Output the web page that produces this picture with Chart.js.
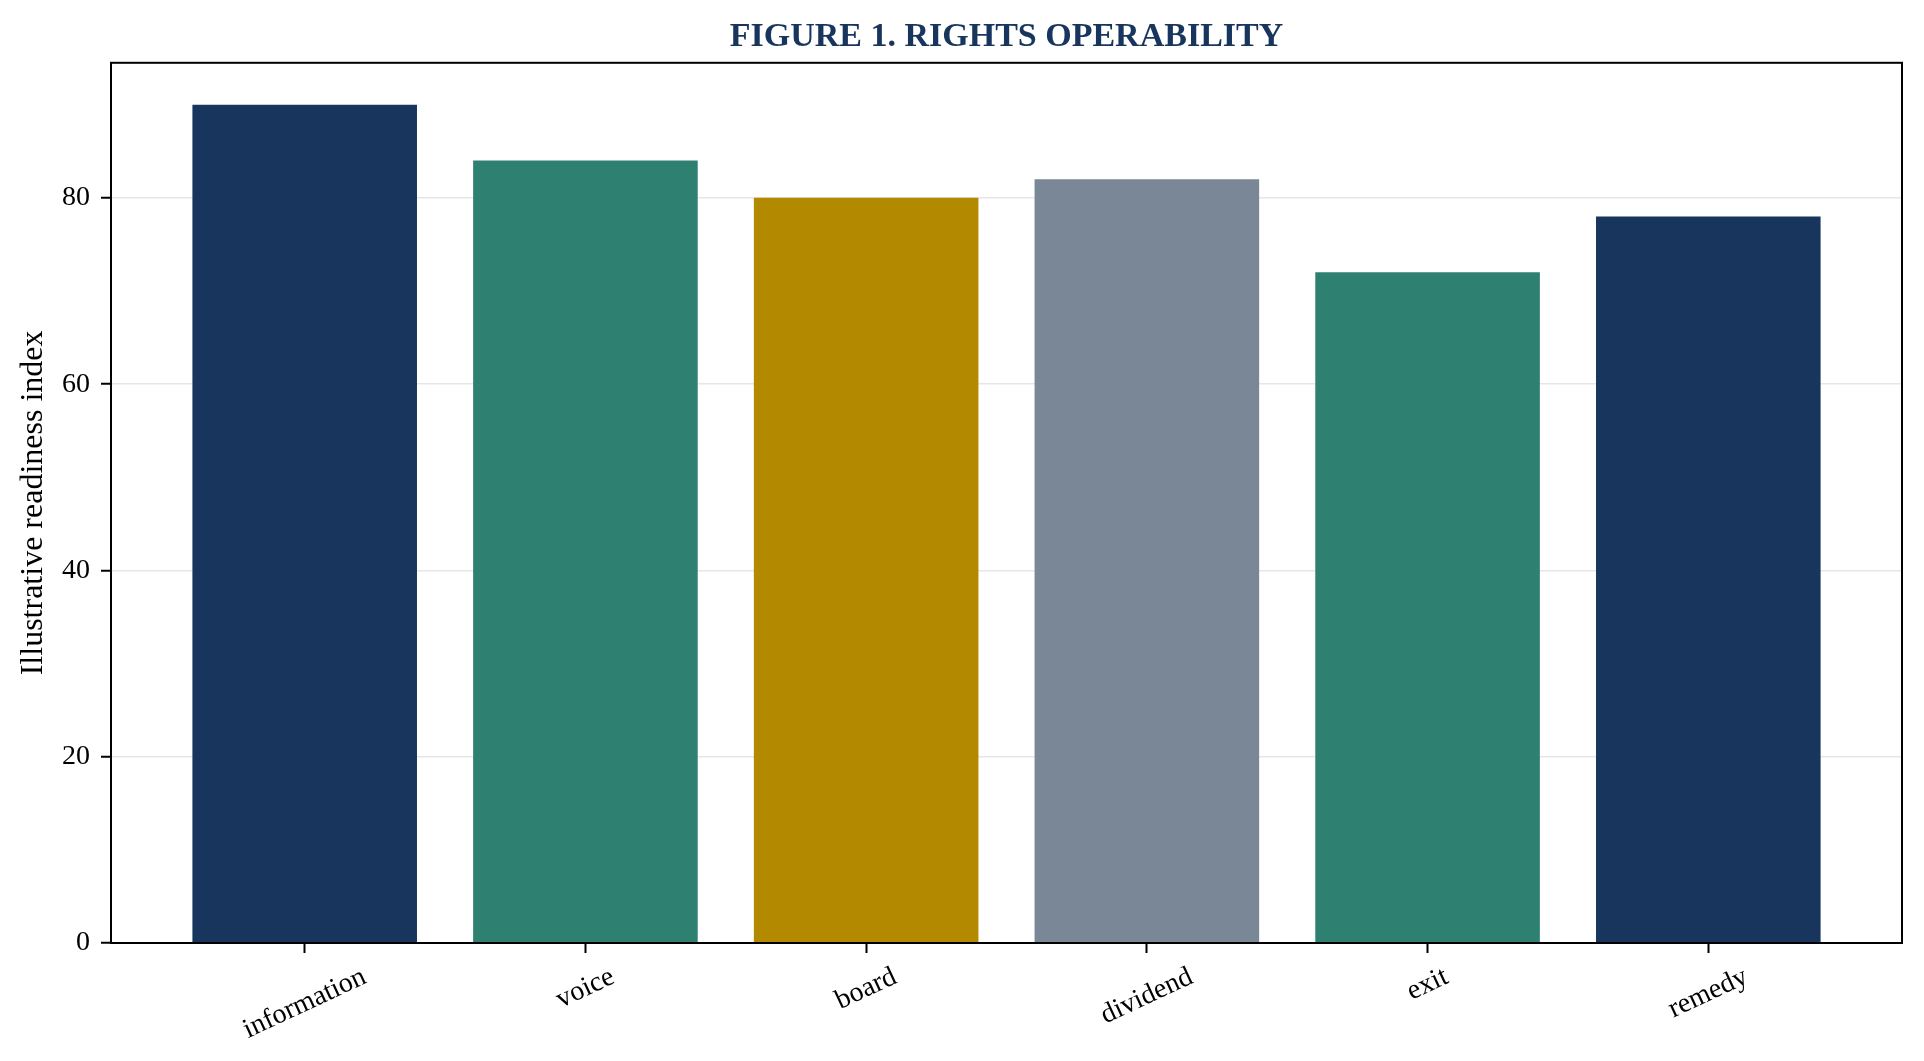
<!DOCTYPE html>
<html lang="en">
<head>
    <meta charset="UTF-8">
    <title>Figure 1. Rights operability</title>
    <style>
        body {
            margin: 0;
            background: #ffffff;
        }

        #chartContainer {
            width: 1924px;
            height: 1061px;
        }
    </style>
    <script src="https://cdn.jsdelivr.net/npm/chart.js"></script>
</head>
<body>
    <div id="chartContainer">
        <canvas id="chart1"></canvas>
    </div>
    <script>
        // Chart data
        const categories = ['information', 'voice', 'board', 'dividend', 'exit', 'remedy'];
        const readinessValues = [90, 84, 80, 82, 72, 78];
        const barColors = ['#18365d', '#2e8070', '#b38900', '#7a8796', '#2e8070', '#18365d'];
        const yTicks = [0, 20, 40, 60, 80];

        const FONT = "'Liberation Serif', 'Times New Roman', serif";

        // Box around the plot area
        const framePlugin = {
            id: 'frame',
            afterDraw(chart) {
                const a = chart.chartArea;
                const ctx = chart.ctx;
                ctx.save();
                ctx.strokeStyle = '#000000';
                ctx.lineWidth = 2;
                ctx.strokeRect(a.left, a.top, a.right - a.left, a.bottom - a.top);
                ctx.restore();
            }
        };

        // Rotated category labels, centred on their tick
        const xLabelPlugin = {
            id: 'xLabels',
            afterDraw(chart) {
                const ctx = chart.ctx;
                const xScale = chart.scales.x;
                const angle = 25 * Math.PI / 180;
                const fontSize = 28;
                ctx.save();
                ctx.font = fontSize + 'px ' + FONT;
                ctx.fillStyle = '#000000';
                ctx.textAlign = 'center';
                ctx.textBaseline = 'middle';
                categories.forEach((label, i) => {
                    const w = ctx.measureText(label).width;
                    const h = fontSize * 1.15;
                    const boxH = w * Math.sin(angle) + h * Math.cos(angle);
                    const x = xScale.getPixelForValue(i);
                    const y = chart.chartArea.bottom + 18 + boxH / 2;
                    ctx.save();
                    ctx.translate(x, y);
                    ctx.rotate(-angle);
                    ctx.fillText(label, 0, 0);
                    ctx.restore();
                });
                ctx.restore();
            }
        };

        const ctx = document.getElementById('chart1').getContext('2d');
        const chart1 = new Chart(ctx, {
            type: 'bar',
            data: {
                datasets: [{
                    data: readinessValues.map((v, i) => ({ x: i, y: v })),
                    backgroundColor: barColors,
                    borderWidth: 0,
                    barPercentage: 0.8,
                    categoryPercentage: 1.0
                }]
            },
            options: {
                responsive: true,
                maintainAspectRatio: false,
                animation: false,
                layout: { padding: { left: 0, right: 22, top: 0, bottom: 0 } },
                plugins: {
                    legend: { display: false },
                    tooltip: { enabled: false },
                    title: {
                        display: true,
                        fullSize: false,
                        text: 'FIGURE 1. RIGHTS OPERABILITY',
                        color: '#18365d',
                        font: { family: FONT, size: 34, weight: 'bold' },
                        padding: { top: 17, bottom: 5 }
                    }
                },
                scales: {
                    x: {
                        type: 'linear',
                        min: -0.69,
                        max: 5.69,
                        offset: false,
                        z: 1,
                        afterBuildTicks(scale) {
                            scale.ticks = categories.map((_, i) => ({ value: i }));
                        },
                        afterFit(scale) {
                            scale.height = 118;
                        },
                        ticks: { display: false },
                        grid: {
                            offset: false,
                            drawOnChartArea: false,
                            drawTicks: true,
                            tickLength: 10,
                            tickColor: '#000000',
                            tickWidth: 2
                        },
                        border: { display: true, color: '#000000', width: 2 }
                    },
                    y: {
                        min: 0,
                        max: 94.5,
                        z: 1,
                        afterBuildTicks(scale) {
                            scale.ticks = yTicks.map(v => ({ value: v }));
                        },
                        afterFit(scale) {
                            scale.width = 111;
                        },
                        ticks: {
                            color: '#000000',
                            padding: 11,
                            font: { family: FONT, size: 28 }
                        },
                        grid: {
                            color: 'rgba(200, 200, 200, 0.45)',
                            lineWidth: 1.5,
                            drawTicks: true,
                            tickLength: 10,
                            tickColor: '#000000',
                            tickWidth: 2
                        },
                        border: { display: true, color: '#000000', width: 2 },
                        title: {
                            display: true,
                            text: 'Illustrative readiness index',
                            color: '#000000',
                            font: { family: FONT, size: 32 },
                            padding: { top: 14, bottom: 0 }
                        }
                    }
                }
            },
            plugins: [framePlugin, xLabelPlugin]
        });
    </script>
</body>
</html>
